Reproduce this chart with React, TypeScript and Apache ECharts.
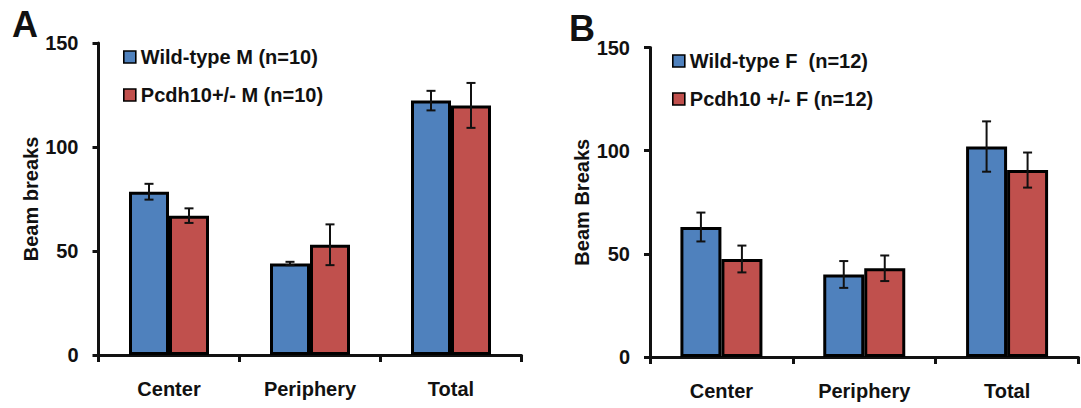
import React, { useEffect, useRef } from "react";
import * as echarts from "echarts";

// Open-field activity: beam breaks per zone (mean ± SEM)
const categories = ["Center", "Periphery", "Total"];
const yTickMax = 150;
const yTickStep = 50;

const maleNames = ["Wild-type M (n=10)", "Pcdh10+/- M (n=10)"];
const maleWildType = [78.5, 44, 122.3];
const maleWildTypeSem = [3.8, 0.8, 4.7];
const maleHet = [67, 53, 120];
const maleHetSem = [3.5, 9.8, 10.8];

const femaleNames = ["Wild-type F  (n=12)", "Pcdh10 +/- F (n=12)"];
const femaleWildType = [63, 40, 102];
const femaleWildTypeSem = [7, 6.5, 12.2];
const femaleHet = [47.5, 43, 90.6];
const femaleHetSem = [6.5, 6.2, 8.5];

const FONT = '"Liberation Sans", Arial, Helvetica, sans-serif';
const INK = "#111111";
const BLUE = "#4F81BD";
const RED = "#C0504D";

function barSeries(name: string, values: number[], color: string, axis: number, width: number) {
  return {
    type: "bar",
    name,
    data: values,
    xAxisIndex: axis,
    yAxisIndex: axis,
    barWidth: width,
    barGap: "0%",
    itemStyle: { color, borderColor: "#000", borderWidth: 3 },
    z: 2,
  };
}

function errorSeries(values: number[], sem: number[], axis: number, offset: number) {
  return {
    type: "custom",
    xAxisIndex: axis,
    yAxisIndex: axis,
    silent: true,
    z: 10,
    data: values.map((v, i) => [i, v - sem[i], v + sem[i]]),
    encode: { x: 0, y: [1, 2] },
    renderItem: (_params: any, api: any) => {
      const lo = api.coord([api.value(0), api.value(1)]);
      const hi = api.coord([api.value(0), api.value(2)]);
      const x = lo[0] + offset;
      const cap = 4.5;
      const style = { stroke: INK, lineWidth: 2 };
      return {
        type: "group",
        children: [
          { type: "line", shape: { x1: x, y1: hi[1], x2: x, y2: lo[1] }, style },
          { type: "line", shape: { x1: x - cap, y1: hi[1], x2: x + cap, y2: hi[1] }, style },
          { type: "line", shape: { x1: x - cap, y1: lo[1], x2: x + cap, y2: lo[1] }, style },
        ],
      };
    },
  };
}

function xAxis(grid: number) {
  return {
    type: "category",
    gridIndex: grid,
    data: categories,
    axisLine: { lineStyle: { color: INK, width: 3 } },
    axisTick: { show: true, length: 7, lineStyle: { color: INK, width: 3 } },
    axisLabel: { color: INK, fontFamily: FONT, fontWeight: "bold", fontSize: 20, margin: 24 },
  };
}

function yAxis(grid: number, name: string, nameGap: number) {
  return {
    type: "value",
    gridIndex: grid,
    min: 0,
    max: yTickMax,
    interval: yTickStep,
    name,
    nameLocation: "middle",
    nameRotate: 90,
    nameGap,
    nameTextStyle: { color: INK, fontFamily: FONT, fontWeight: "bold", fontSize: 20 },
    splitLine: { show: false },
    axisLine: { show: true, lineStyle: { color: INK, width: 3 } },
    axisTick: { show: true, length: 6, lineStyle: { color: INK, width: 3 } },
    axisLabel: { color: INK, fontFamily: FONT, fontWeight: "bold", fontSize: 20, margin: 20 },
  };
}

function legend(names: string[], left: number, top: number) {
  return {
    data: names,
    orient: "vertical",
    left,
    top,
    padding: 0,
    icon: "rect",
    itemWidth: 12,
    itemHeight: 12,
    itemGap: 18,
    selectedMode: false,
    itemStyle: { borderColor: "#000", borderWidth: 1.6 },
    textStyle: { color: INK, fontFamily: FONT, fontWeight: "bold", fontSize: 20, lineHeight: 20 },
  };
}

export default function App() {
  const ref = useRef<HTMLDivElement>(null);

  useEffect(() => {
    if (!ref.current) return;
    const chart = echarts.init(ref.current, null, { renderer: "svg" });
    const barW = [40, 41];
    chart.setOption({
      animation: false,
      backgroundColor: "#ffffff",
      grid: [
        { left: 98.5, top: 43, width: 423, height: 312 },
        { left: 650, top: 47.5, width: 428.5, height: 309.5 },
      ],
      xAxis: [xAxis(0), xAxis(1)],
      yAxis: [yAxis(0, "Beam breaks", 55), yAxis(1, "Beam Breaks", 58)],
      legend: [legend(maleNames, 123, 47), legend(femaleNames, 672, 51)],
      series: [
        barSeries(maleNames[0], maleWildType, BLUE, 0, barW[0]),
        barSeries(maleNames[1], maleHet, RED, 0, barW[0]),
        barSeries(femaleNames[0], femaleWildType, BLUE, 1, barW[1]),
        barSeries(femaleNames[1], femaleHet, RED, 1, barW[1]),
        errorSeries(maleWildType, maleWildTypeSem, 0, -barW[0] / 2),
        errorSeries(maleHet, maleHetSem, 0, barW[0] / 2),
        errorSeries(femaleWildType, femaleWildTypeSem, 1, -barW[1] / 2),
        errorSeries(femaleHet, femaleHetSem, 1, barW[1] / 2),
      ],
      graphic: [
        {
          type: "text",
          x: 12,
          y: 24,
          style: { text: "A", fill: INK, fontFamily: FONT, fontWeight: "bold", fontSize: 36, verticalAlign: "middle" },
        },
        {
          type: "text",
          x: 569,
          y: 28,
          style: { text: "B", fill: INK, fontFamily: FONT, fontWeight: "bold", fontSize: 36, verticalAlign: "middle" },
        },
      ],
    });
    return () => chart.dispose();
  }, []);

  return (
    <div
      ref={ref}
      style={{ position: "fixed", left: 0, top: 0, width: 1081, height: 408, background: "#fff" }}
    />
  );
}
